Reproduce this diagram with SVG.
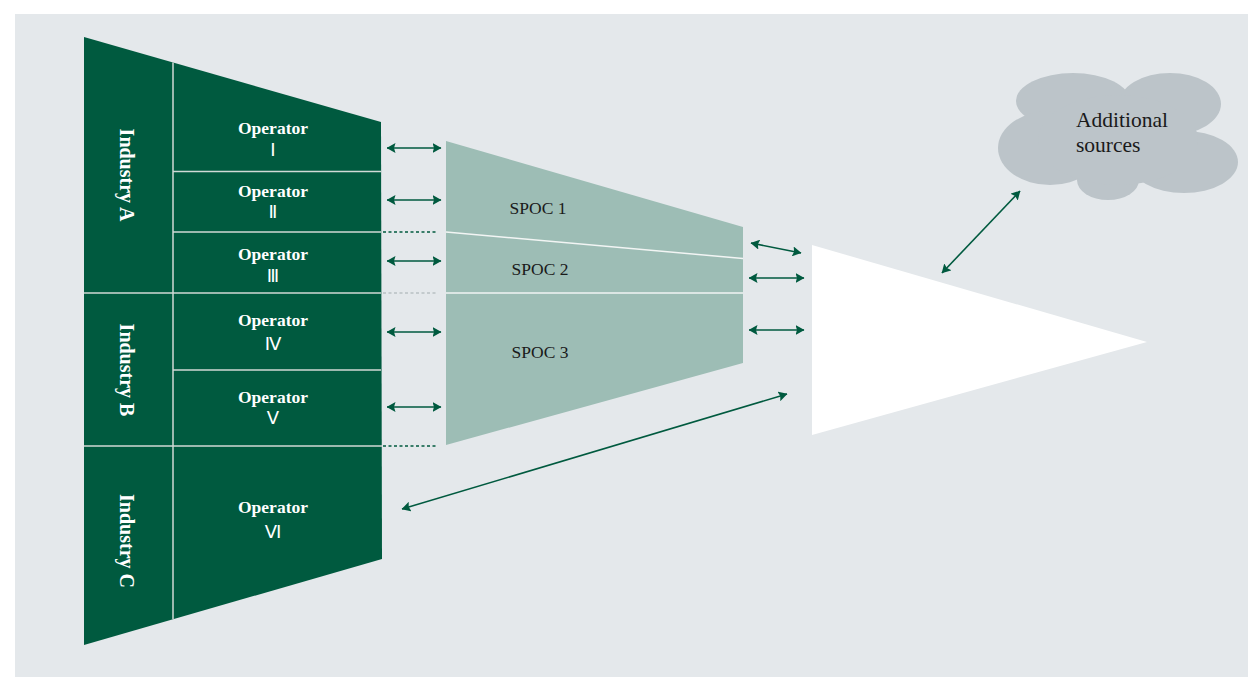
<svg xmlns="http://www.w3.org/2000/svg" width="1248" height="677" viewBox="0 0 1248 677">
  <defs>
    <marker id="ah" viewBox="0 0 9 10" refX="8.5" refY="5" markerWidth="9" markerHeight="10" markerUnits="userSpaceOnUse" orient="auto-start-reverse">
      <path d="M0,0 L9,5 L0,10 L1.5,5 Z" fill="#005a3f"/>
    </marker>
    <style>
      .op { font-family: "Liberation Serif", serif; font-weight: bold; font-size: 17.5px; fill: #ffffff; text-anchor: middle; }
      .num { font-family: "DejaVu Sans", "Noto Sans CJK JP", sans-serif; font-size: 18px; fill: #ffffff; text-anchor: middle; }
      .ind { font-family: "Liberation Serif", serif; font-weight: bold; font-size: 20px; fill: #ffffff; text-anchor: middle; }
      .spoc { font-family: "Liberation Serif", serif; font-size: 17.5px; fill: #1a1a1a; text-anchor: middle; }
      .cl { font-family: "Liberation Serif", serif; font-size: 21.5px; fill: #1a1a1a; }
      .div { stroke: #d0dad6; stroke-width: 1.5; fill: none; }
      .conn { stroke: #005a3f; stroke-width: 1.6; fill: none; marker-start: url(#ah); marker-end: url(#ah); }
      .dotg { stroke: #005a3f; stroke-width: 1.5; stroke-dasharray: 3 2.5; }
      .dotl { stroke: #b8c0c3; stroke-width: 1.5; stroke-dasharray: 3 2.5; }
    </style>
  </defs>
  <rect x="0" y="0" width="1248" height="677" fill="#ffffff"/>
  <rect x="15" y="14" width="1233" height="663" fill="#e4e8eb"/>

  <g id="operators-block">
    <polygon points="84,37 381,122 382,559 84,645" fill="#005a3f"/>
    <line class="div" x1="173" y1="62.6" x2="173" y2="619.3"/>
    <line class="div" x1="173" y1="171.5" x2="381" y2="171.5"/>
    <line class="div" x1="173" y1="232" x2="381" y2="232"/>
    <line class="div" x1="84" y1="293" x2="381" y2="293"/>
    <line class="div" x1="173" y1="370" x2="381" y2="370"/>
    <line class="div" x1="84" y1="446" x2="382" y2="446"/>
  </g>

  <g id="industry-a"><text class="ind" transform="translate(120,175) rotate(90)">Industry A</text></g>
  <g id="industry-b"><text class="ind" transform="translate(120,370) rotate(90)">Industry B</text></g>
  <g id="industry-c"><text class="ind" transform="translate(120,541) rotate(90)">Industry C</text></g>

  <g id="operator-1"><text class="op" x="273" y="134">Operator</text><text class="num" x="273" y="156">Ⅰ</text></g>
  <g id="operator-2"><text class="op" x="273" y="197">Operator</text><text class="num" x="273" y="218">Ⅱ</text></g>
  <g id="operator-3"><text class="op" x="273" y="260">Operator</text><text class="num" x="273" y="282">Ⅲ</text></g>
  <g id="operator-4"><text class="op" x="273" y="325.5">Operator</text><text class="num" x="273" y="350">Ⅳ</text></g>
  <g id="operator-5"><text class="op" x="273" y="403">Operator</text><text class="num" x="273" y="424">Ⅴ</text></g>
  <g id="operator-6"><text class="op" x="273" y="513">Operator</text><text class="num" x="273" y="538">Ⅵ</text></g>

  <g id="dotted-guides">
    <line class="dotg" x1="383" y1="232" x2="437" y2="232"/>
    <line class="dotl" x1="383" y1="293" x2="437" y2="293"/>
    <line class="dotg" x1="383" y1="446" x2="437" y2="446"/>
  </g>

  <g id="spoc-block">
    <polygon points="446,141 743,227 743,363 446,445" fill="#9dbdb5"/>
    <line stroke="#f2f5f4" stroke-width="1.5" x1="446" y1="232" x2="743" y2="258.5"/>
    <line stroke="#f2f5f4" stroke-width="1.5" x1="446" y1="293" x2="743" y2="293"/>
  </g>
  <g id="spoc-1"><text class="spoc" x="538" y="214">SPOC 1</text></g>
  <g id="spoc-2"><text class="spoc" x="540" y="275">SPOC 2</text></g>
  <g id="spoc-3"><text class="spoc" x="540" y="358">SPOC 3</text></g>

  <g id="target">
    <polygon points="812,245 1147,342 812,435" fill="#ffffff"/>
  </g>

  <g id="additional-sources">
    <g fill="#bcc4c9">
      <ellipse cx="1073" cy="101" rx="57" ry="28"/>
      <ellipse cx="1170" cy="104" rx="51" ry="31"/>
      <ellipse cx="1050" cy="148" rx="52" ry="37"/>
      <ellipse cx="1184" cy="162" rx="54" ry="31"/>
      <ellipse cx="1108" cy="180" rx="31" ry="20"/>
      <ellipse cx="1118" cy="140" rx="80" ry="45"/>
    </g>
    <text class="cl" x="1076" y="127">Additional</text>
    <text class="cl" x="1076" y="152">sources</text>
  </g>

  <g id="connectors">
    <line class="conn" x1="387" y1="148" x2="441" y2="148"/>
    <line class="conn" x1="387" y1="200" x2="441" y2="200"/>
    <line class="conn" x1="387" y1="261" x2="441" y2="261"/>
    <line class="conn" x1="387" y1="332" x2="441" y2="332"/>
    <line class="conn" x1="387" y1="407" x2="441" y2="407"/>
    <line class="conn" x1="751" y1="243" x2="801" y2="253"/>
    <line class="conn" x1="749" y1="278" x2="804" y2="278"/>
    <line class="conn" x1="749" y1="330" x2="804" y2="330"/>
    <line class="conn" x1="402" y1="509" x2="787" y2="394"/>
    <line class="conn" x1="942" y1="273" x2="1020" y2="191"/>
  </g>
</svg>
